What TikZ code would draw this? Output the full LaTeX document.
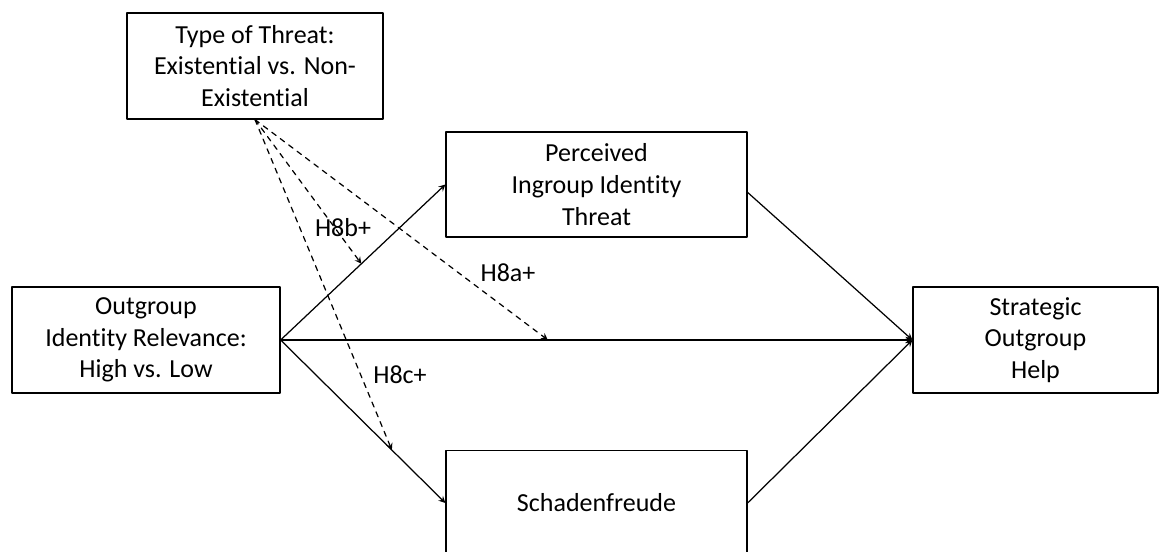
\documentclass[tikz,border=0pt]{standalone}
\usepackage{fontspec}
\setmainfont{Carlito}[Ligatures=NoCommon]
\begin{document}
\begin{tikzpicture}[font=\fontsize{14.8}{18}\selectfont, line join=round, line cap=round,>=stealth,
	box/.style={draw, line width=0.7pt, align=center, inner sep=0pt},
	path/.style={->, line width=0.7pt},
	mod/.style={->, dashed, line width=0.7pt}]
	\useasboundingbox (0,0) rectangle (23.18,11.04);
	\node[box, minimum width=5.12cm, minimum height=2.12cm] (thr) at (5.10,9.72) {Type of Threat:\\Existential vs. Non-\\Existential};
	\node[box, minimum width=5.36cm, minimum height=2.12cm] (out) at (2.92,4.24) {Outgroup\\Identity Relevance:\\High vs. Low};
	\node[box, minimum width=6.02cm, minimum height=2.10cm] (per) at (11.93,7.35) {Perceived\\Ingroup Identity\\Threat};
	\node[box, minimum width=6.02cm, minimum height=2.10cm] (sch) at (11.93,0.98) {Schadenfreude};
	\node[box, minimum width=4.90cm, minimum height=2.12cm] (str) at (20.71,4.24) {Strategic\\Outgroup\\Help};
	% paths
	\draw[path] (out.east) -- coordinate[pos=0.49] (hb) (per.west);
	\draw[path] (out.east) -- coordinate[pos=0.423] (ha) (str.west);
	\draw[path] (out.east) -- coordinate[pos=0.675] (hc) (sch.west);
	\draw[path] (per.-3) -- (str.west);
	\draw[path] (sch.east) -- (str.west);
	% moderation
	\draw[mod] (thr.south) -- (hb);
	\draw[mod] (thr.south) -- (ha);
	\draw[mod] (thr.south) -- (hc);
	\node (lb) at (6.86,6.48) {H8b+};
	\node (la) at (10.16,5.58) {H8a+};
	\node (lc) at (8.00,3.54) {H8c+};
\end{tikzpicture}
\end{document}
